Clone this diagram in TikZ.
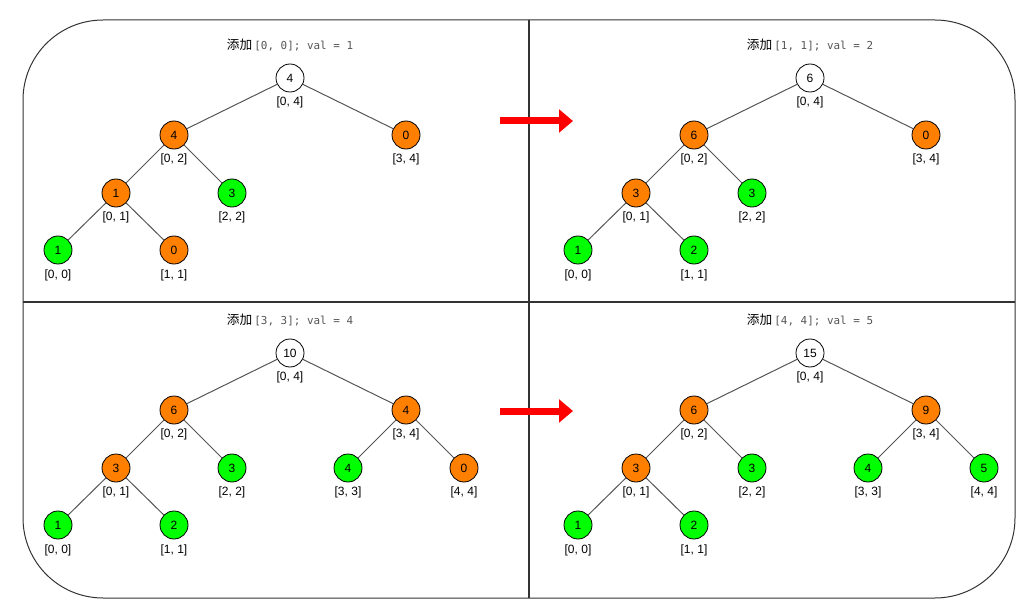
\documentclass[tikz,border=0pt]{standalone}
\usepackage{fontspec}
\setmainfont{Liberation Sans}
\newfontfamily\cjk{Noto Sans CJK SC}
\newfontfamily\monof{DejaVu Sans Mono}
\usetikzlibrary{arrows.meta}
\definecolor{orangeN}{HTML}{FF8000}
\definecolor{greenN}{HTML}{00FF00}
\definecolor{edgeC}{HTML}{555555}
\definecolor{titleG}{HTML}{555555}
\definecolor{frameC}{HTML}{333333}
\begin{document}
\begin{tikzpicture}[x=0.75pt,y=-0.75pt,
  nd/.style={circle,draw=black,line width=0.6pt,minimum size=21pt,inner sep=0pt,font=\fontsize{9}{10}\selectfont},
  orn/.style={nd,fill=orangeN},
  grn/.style={nd,fill=greenN},
  wht/.style={nd,fill=white},
  lbl/.style={font=\fontsize{9}{10}\selectfont,inner sep=0pt},
  tedge/.style={draw=edgeC,line width=0.75pt},
  ttl/.style={inner sep=0pt},
  bigarrow/.style={draw=red,line width=5.25pt,-{Triangle[length=10.5pt,width=17pt]}},
  frame/.style={draw=frameC,line width=0.75pt},
  divider/.style={draw=frameC,line width=1.5pt}]
\useasboundingbox (0,0) rectangle (1026,610);
% frame and dividers
\draw[frame,rounded corners=60pt] (23,20) rectangle (1015,598);
\coordinate (vt) at (529,20);
\coordinate (vb) at (529,598);
\coordinate (hl) at (23,302);
\coordinate (hr) at (1015,302);
\draw[divider] (vt) -- (vb);
\draw[divider] (hl) -- (hr);
% arrows
\coordinate (ar1s) at (500,121);
\coordinate (ar1e) at (573,121);
\coordinate (ar2s) at (500,411);
\coordinate (ar2e) at (573,411);
\draw[bigarrow] (ar1s) -- (ar1e);
\draw[bigarrow] (ar2s) -- (ar2e);

% ---------- Panel A ----------
\node[ttl] (ta) at (290,45) {{\cjk\fontsize{9.5}{10}\selectfont 添加}\,{\monof\fontsize{8.2}{10}\selectfont\color{titleG}[0, 0]; val = 1}};
\node[wht] (a04) at (290,78) {4};
\node[orn] (a02) at (174,135) {4};
\node[orn] (a34) at (406,135) {0};
\node[orn] (a01) at (116,193) {1};
\node[grn] (a22) at (232,193) {3};
\node[grn] (a00) at (58,250) {1};
\node[orn] (a11) at (174,250) {0};
\node[lbl] (a04l) at (290,102) {[0, 4]};
\node[lbl] (a02l) at (174,159) {[0, 2]};
\node[lbl] (a34l) at (406,159) {[3, 4]};
\node[lbl] (a01l) at (116,217) {[0, 1]};
\node[lbl] (a22l) at (232,217) {[2, 2]};
\node[lbl] (a00l) at (58,275) {[0, 0]};
\node[lbl] (a11l) at (174,275) {[1, 1]};
\draw[tedge] (a04) -- (a02);
\draw[tedge] (a04) -- (a34);
\draw[tedge] (a02) -- (a01);
\draw[tedge] (a02) -- (a22);
\draw[tedge] (a01) -- (a00);
\draw[tedge] (a01) -- (a11);

% ---------- Panel B ----------
\node[ttl] (tb) at (810,45) {{\cjk\fontsize{9.5}{10}\selectfont 添加}\,{\monof\fontsize{8.2}{10}\selectfont\color{titleG}[1, 1]; val = 2}};
\node[wht] (b04) at (810,78) {6};
\node[orn] (b02) at (694,135) {6};
\node[orn] (b34) at (926,135) {0};
\node[orn] (b01) at (636,193) {3};
\node[grn] (b22) at (752,193) {3};
\node[grn] (b00) at (578,250) {1};
\node[grn] (b11) at (694,250) {2};
\node[lbl] (b04l) at (810,102) {[0, 4]};
\node[lbl] (b02l) at (694,159) {[0, 2]};
\node[lbl] (b34l) at (926,159) {[3, 4]};
\node[lbl] (b01l) at (636,217) {[0, 1]};
\node[lbl] (b22l) at (752,217) {[2, 2]};
\node[lbl] (b00l) at (578,275) {[0, 0]};
\node[lbl] (b11l) at (694,275) {[1, 1]};
\draw[tedge] (b04) -- (b02);
\draw[tedge] (b04) -- (b34);
\draw[tedge] (b02) -- (b01);
\draw[tedge] (b02) -- (b22);
\draw[tedge] (b01) -- (b00);
\draw[tedge] (b01) -- (b11);

% ---------- Panel C ----------
\node[ttl] (tc) at (290,320) {{\cjk\fontsize{9.5}{10}\selectfont 添加}\,{\monof\fontsize{8.2}{10}\selectfont\color{titleG}[3, 3]; val = 4}};
\node[wht] (c04) at (290,353) {10};
\node[orn] (c02) at (174,410) {6};
\node[orn] (c34) at (406,410) {4};
\node[orn] (c01) at (116,468) {3};
\node[grn] (c22) at (232,468) {3};
\node[grn] (c33) at (348,468) {4};
\node[orn] (c44) at (464,468) {0};
\node[grn] (c00) at (58,525) {1};
\node[grn] (c11) at (174,525) {2};
\node[lbl] (c04l) at (290,377) {[0, 4]};
\node[lbl] (c02l) at (174,434) {[0, 2]};
\node[lbl] (c34l) at (406,434) {[3, 4]};
\node[lbl] (c01l) at (116,492) {[0, 1]};
\node[lbl] (c22l) at (232,492) {[2, 2]};
\node[lbl] (c33l) at (348,492) {[3, 3]};
\node[lbl] (c44l) at (464,492) {[4, 4]};
\node[lbl] (c00l) at (58,550) {[0, 0]};
\node[lbl] (c11l) at (174,550) {[1, 1]};
\draw[tedge] (c04) -- (c02);
\draw[tedge] (c04) -- (c34);
\draw[tedge] (c02) -- (c01);
\draw[tedge] (c02) -- (c22);
\draw[tedge] (c34) -- (c33);
\draw[tedge] (c34) -- (c44);
\draw[tedge] (c01) -- (c00);
\draw[tedge] (c01) -- (c11);

% ---------- Panel D ----------
\node[ttl] (td) at (810,320) {{\cjk\fontsize{9.5}{10}\selectfont 添加}\,{\monof\fontsize{8.2}{10}\selectfont\color{titleG}[4, 4]; val = 5}};
\node[wht] (d04) at (810,353) {15};
\node[orn] (d02) at (694,410) {6};
\node[orn] (d34) at (926,410) {9};
\node[orn] (d01) at (636,468) {3};
\node[grn] (d22) at (752,468) {3};
\node[grn] (d33) at (868,468) {4};
\node[grn] (d44) at (984,468) {5};
\node[grn] (d00) at (578,525) {1};
\node[grn] (d11) at (694,525) {2};
\node[lbl] (d04l) at (810,377) {[0, 4]};
\node[lbl] (d02l) at (694,434) {[0, 2]};
\node[lbl] (d34l) at (926,434) {[3, 4]};
\node[lbl] (d01l) at (636,492) {[0, 1]};
\node[lbl] (d22l) at (752,492) {[2, 2]};
\node[lbl] (d33l) at (868,492) {[3, 3]};
\node[lbl] (d44l) at (984,492) {[4, 4]};
\node[lbl] (d00l) at (578,550) {[0, 0]};
\node[lbl] (d11l) at (694,550) {[1, 1]};
\draw[tedge] (d04) -- (d02);
\draw[tedge] (d04) -- (d34);
\draw[tedge] (d02) -- (d01);
\draw[tedge] (d02) -- (d22);
\draw[tedge] (d34) -- (d33);
\draw[tedge] (d34) -- (d44);
\draw[tedge] (d01) -- (d00);
\draw[tedge] (d01) -- (d11);
\end{tikzpicture}
\end{document}
